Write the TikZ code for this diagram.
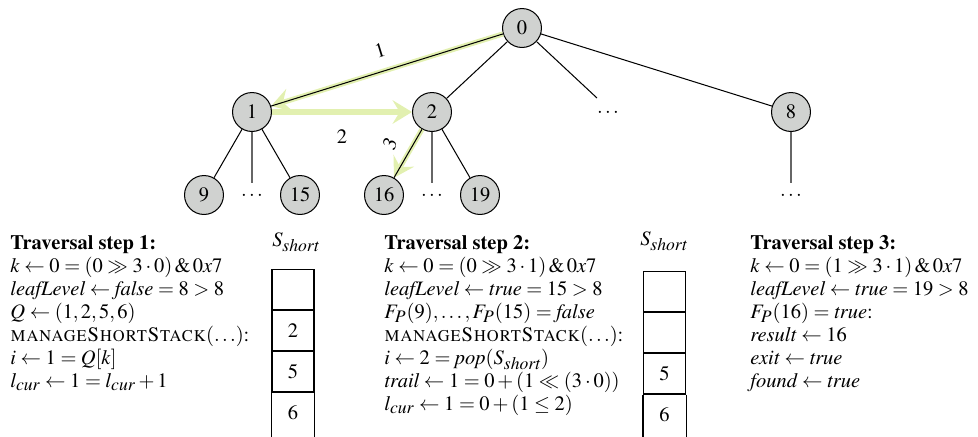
\documentclass[tikz,border=0pt]{standalone}
\usepackage[T1]{fontenc}
\usepackage{mathptmx}
\usetikzlibrary{arrows.meta}
\definecolor{hl}{RGB}{226,240,176}
\definecolor{nodegray}{RGB}{208,210,208}
\newcommand{\mysub}[1]{_{\mbox{\fontsize{8.6}{9}\selectfont\itshape #1}}}
\begin{document}
\begin{tikzpicture}[x=0.488pt,y=-0.488pt,
  tn/.style={circle,draw,fill=nodegray,minimum size=19pt,inner sep=0pt,line width=0.5pt,font=\fontsize{10}{12}\selectfont},
  dots/.style={inner sep=0pt},
  edge/.style={draw=black,line width=0.5pt},
  vedge/.style={draw=black!60,line width=0.6pt},
  hlarrow/.style={draw=hl,line width=2.5pt,-{Stealth[length=9.5pt,width=11.5pt,inset=3.5pt]}},
  cellbox/.style={draw,line width=0.5pt,minimum width=20.5pt,minimum height=20pt,inner sep=0pt},
  lbl/.style={inner sep=0pt,font=\fontsize{10}{12}\selectfont},
  stepblock/.style={anchor=north west,align=left,inner sep=0pt,font=\fontsize{10}{11.2}\selectfont}
]
\useasboundingbox (0,0) rectangle (978,436);

% tree nodes
\node[tn] (n0) at (522,28) {0};
\node[tn] (n1) at (252,112) {1};
\node[tn] (n2) at (432,112) {2};
\node[dots] (d0) at (608,113) {$\cdots$};
\node[tn] (n8) at (791,112) {8};
\node[tn] (n9) at (204,195) {9};
\node[dots] (d1) at (252,196) {$\cdots$};
\node[tn] (n15) at (300,195) {15};
\node[tn] (n16) at (384,195) {16};
\node[dots] (d2) at (432,196) {$\cdots$};
\node[tn] (n19) at (480,195) {19};
\node[dots] (d8) at (791,196) {$\cdots$};

\coordinate (c0) at (597,98);
\coordinate (c1) at (252,183);
\coordinate (c2) at (432,183);
\coordinate (c8) at (791,183);

% highlighted traversal arrows
\draw[hlarrow] (n0) -- (n1);
\draw[hlarrow] (n1.east) -- (n2.west);
\draw[hlarrow] (n2) -- (n16);

% tree edges
\draw[edge] (n0) -- (n1);
\draw[edge] (n0) -- (n2);
\draw[edge] (n0) -- (c0);
\draw[edge] (n0) -- (n8);
\draw[edge] (n1) -- (n9);
\draw[edge] (n1) -- (n15);
\draw[edge] (n2) -- (n16);
\draw[edge] (n2) -- (n19);
\draw[vedge] (n1) -- (c1);
\draw[vedge] (n2) -- (c2);
\draw[vedge] (n8) -- (c8);

% arrow labels
\node[lbl,rotate=17] (l1) at (380,50) {1};
\node[lbl] (l2) at (342,137) {2};
\node[lbl,rotate=60] (l3) at (390,144) {3};

% step texts
\node[stepblock] (t1) at (10,235) {\textbf{Traversal step 1:}\\
$k \leftarrow 0 = (0 \gg 3\cdot 0)\,\&\,0x7$\\
$\mathit{leafLevel} \leftarrow \mathit{false} = 8 > 8$\\
$Q \leftarrow (1,2,5,6)$\\
\textsc{manageShortStack}$(\ldots)$:\\
$i \leftarrow 1 = Q[k]$\\
$l\mysub{cur} \leftarrow 1 = l\mysub{cur} + 1$};

\node[stepblock] (t2) at (384,235) {\textbf{Traversal step 2:}\\
$k \leftarrow 0 = (0 \gg 3\cdot 1)\,\&\,0x7$\\
$\mathit{leafLevel} \leftarrow \mathit{true} = 15 > 8$\\
$F\mysub{P}(9),\ldots,F\mysub{P}(15) = \mathit{false}$\\
\textsc{manageShortStack}$(\ldots)$:\\
$i \leftarrow 2 = \mathit{pop}(S\mysub{short})$\\
$\mathit{trail} \leftarrow 1 = 0 + (1 \ll (3\cdot 0))$\\
$l\mysub{cur} \leftarrow 1 = 0 + (1 \leq 2)$};

\node[stepblock] (t3) at (750,235) {\textbf{Traversal step 3:}\\
$k \leftarrow 0 = (1 \gg 3\cdot 1)\,\&\,0x7$\\
$\mathit{leafLevel} \leftarrow \mathit{true} = 19 > 8$\\
$F\mysub{P}(16) = \mathit{true}$:\\
$\mathit{result} \leftarrow 16$\\
$\mathit{exit} \leftarrow \mathit{true}$\\
$\mathit{found} \leftarrow \mathit{true}$};

% short stack 1
\node[lbl] (ss1) at (296,242) {$S\mysub{short}$};
\node[cellbox] (s1a) at (293,289.5) {};
\node[cellbox] (s1b) at (293,330.5) {2};
\node[cellbox] (s1c) at (293,371.5) {5};
\node[lbl] (s1d) at (293,413) {6};
\draw[line width=0.5pt] (s1c.south west) -- ++(0,44);
\draw[line width=0.5pt] (s1c.south east) -- ++(0,44);

% short stack 2
\node[lbl] (ss2) at (664,241) {$S\mysub{short}$};
\node[cellbox] (s2a) at (664.5,291.5) {};
\node[cellbox] (s2b) at (664.5,332.5) {};
\node[cellbox] (s2c) at (664.5,373.5) {5};
\node[lbl] (s2d) at (664.5,415) {6};
\draw[line width=0.5pt] (s2c.south west) -- ++(0,42);
\draw[line width=0.5pt] (s2c.south east) -- ++(0,42);
\end{tikzpicture}
\end{document}
